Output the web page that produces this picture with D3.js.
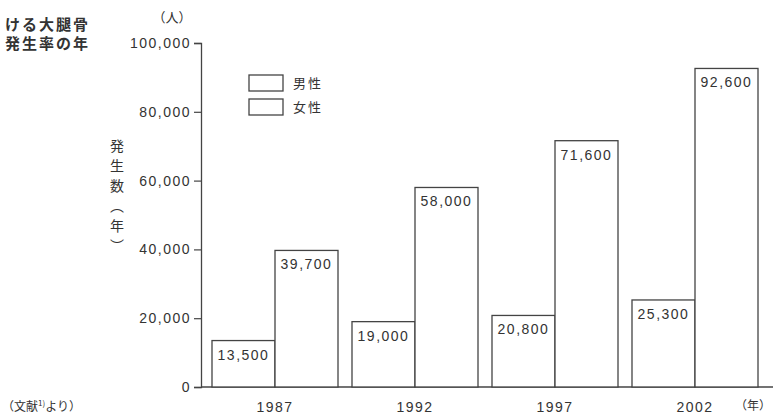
<!DOCTYPE html>
<html>
<head>
<meta charset="utf-8">
<script src="https://cdn.jsdelivr.net/npm/d3@7"></script>
<style>
  body { margin: 0; background: #fff; }
  svg text { font-family: "Liberation Sans", "Noto Sans CJK JP", sans-serif; fill: #333; }
  .cjk { font-family: "Noto Sans CJK JP", sans-serif; }
  .num { font-size: 14px; letter-spacing: 1.5px; }
</style>
</head>
<body>
<div id="chart"></div>
<script>
// data
var years = ["1987", "1992", "1997", "2002"];
var series = ["男性", "女性"];
var male = [13500, 19000, 20800, 25300];
var female = [39700, 58000, 71600, 92600];
var yTicks = [0, 20000, 40000, 60000, 80000, 100000];

var width = 773, height = 414;
var svg = d3.select("#chart").append("svg")
  .attr("width", width).attr("height", height);

var y = d3.scaleLinear().domain([0, 100000]).range([387, 43]);
var x0 = d3.scaleBand().domain(years).range([205, 765])
  .paddingInner(0.1).paddingOuter(0.05);
var x1 = d3.scaleBand().domain(series).range([0, x0.bandwidth()]);

// title fragment, cut at the left edge
svg.append("text").attr("class", "cjk").attr("x", 90).attr("y", 30)
  .attr("text-anchor", "end").style("font-size", "15px").style("font-weight", "bold")
  .style("letter-spacing", "2px").text("ける大腿骨");
svg.append("text").attr("class", "cjk").attr("x", 90).attr("y", 49)
  .attr("text-anchor", "end").style("font-size", "15px").style("font-weight", "bold")
  .style("letter-spacing", "2px").text("発生率の年");

// y axis
var yAxis = svg.append("g").attr("transform", "translate(201,0)")
  .call(d3.axisLeft(y).tickValues(yTicks).tickFormat(d3.format(",")).tickSize(7).tickPadding(3));
yAxis.select(".domain").attr("stroke", "#444").attr("stroke-width", 1.3);
yAxis.selectAll(".tick line").attr("stroke", "#444").attr("stroke-width", 1.2);
yAxis.selectAll(".tick text").attr("class", "num").style("font-family", "Liberation Sans").attr("fill", "#333");

svg.append("text").attr("class", "cjk").attr("x", 172).attr("y", 22)
  .attr("text-anchor", "middle").style("font-size", "13px").text("（人）");

// vertical axis title
svg.append("text").attr("class", "cjk")
  .attr("x", 117).attr("y", 139)
  .style("writing-mode", "vertical-rl")
  .style("font-size", "14px").style("letter-spacing", "6px")
  .text("発生数（年）");

// baseline
svg.append("line").attr("x1", 201).attr("x2", 773)
  .attr("y1", y(0)).attr("y2", y(0))
  .attr("stroke", "#444").attr("stroke-width", 1.3);

// bars
var rows = years.map(function (yr, i) {
  return { year: yr, values: [{ key: "男性", value: male[i] }, { key: "女性", value: female[i] }] };
});

var groups = svg.selectAll("g.year").data(rows).enter()
  .append("g").attr("class", "year")
  .attr("transform", function (d) { return "translate(" + x0(d.year) + ",0)"; });

groups.selectAll("rect").data(function (d) { return d.values; }).enter()
  .append("rect")
  .attr("x", function (d) { return x1(d.key); })
  .attr("y", function (d) { return y(d.value); })
  .attr("width", x1.bandwidth())
  .attr("height", function (d) { return y(0) - y(d.value); })
  .attr("fill", "#fff").attr("stroke", "#444").attr("stroke-width", 1.3);

groups.selectAll("text.val").data(function (d) { return d.values; }).enter()
  .append("text").attr("class", "val num")
  .attr("x", function (d) { return x1(d.key) + x1.bandwidth() / 2; })
  .attr("y", function (d) { return y(d.value) + 19; })
  .attr("text-anchor", "middle")
  .text(function (d) { return d3.format(",")(d.value); });

// year labels
svg.selectAll("text.yr").data(years).enter()
  .append("text").attr("class", "yr num")
  .attr("x", function (d) { return x0(d) + x0.bandwidth() / 2; })
  .attr("y", 412).attr("text-anchor", "middle")
  .text(function (d) { return d; });

svg.append("text").attr("class", "cjk").attr("x", 753).attr("y", 410)
  .attr("text-anchor", "middle").style("font-size", "12px").text("（年）");

// legend
var legend = svg.selectAll("g.leg").data(series).enter()
  .append("g").attr("class", "leg")
  .attr("transform", function (d, i) { return "translate(249," + (75 + i * 24) + ")"; });
legend.append("rect").attr("width", 34).attr("height", 16)
  .attr("fill", "#fff").attr("stroke", "#444").attr("stroke-width", 1.3);
legend.append("text").attr("class", "cjk").attr("x", 44).attr("y", 13)
  .style("font-size", "13px").style("letter-spacing", "2px")
  .text(function (d) { return d; });

// source note
var src = svg.append("text").attr("class", "cjk").attr("x", 2).attr("y", 411)
  .style("font-size", "12px");
src.append("tspan").text("（文献");
src.append("tspan").attr("dy", -5).style("font-size", "8px").text("1)");
src.append("tspan").attr("dy", 5).text("より）");
</script>
</body>
</html>
